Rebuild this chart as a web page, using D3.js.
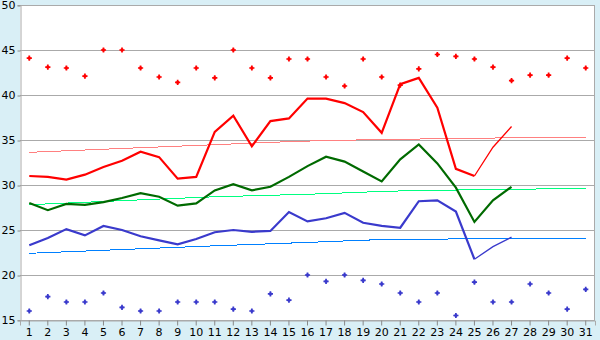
<!DOCTYPE html>
<html>
<head>
<meta charset="utf-8">
<script src="https://cdn.jsdelivr.net/npm/d3@7"></script>
<style>
  html, body { margin: 0; padding: 0; background: #d9eff6; }
  svg { display: block; }
  .tick text { font-family: "DejaVu Sans", Verdana, sans-serif; font-size: 11px; fill: #000; }
</style>
</head>
<body>
<div id="chart"></div>
<script>
const days = d3.range(1, 32)
const yTicks = [15, 20, 25, 30, 35, 40, 45, 50]

// daily highs / lows (scatter)
const highs = [44.1, 43.1, 43.0, 42.1, 45.0, 45.0, 43.0, 42.0, 41.4, 43.0, 41.9, 45.0, 43.0, 41.9, 44.0, 44.0,
  42.0, 41.0, 44.0, 42.0, 41.1, 42.9, 44.5, 44.3, 44.0, 43.1, 41.6, 42.2, 42.2, 44.1, 43.0]
const lows = [16.0, 17.6, 17.0, 17.0, 18.0, 16.4, 16.0, 16.0, 17.0, 17.0, 17.0, 16.2, 16.0, 17.9, 17.2, 20.0,
  19.3, 20.0, 19.4, 19.0, 18.0, 17.0, 18.0, 15.5, 19.2, 17.0, 17.0, 19.0, 18.0, 16.2, 18.4]

// lines, days 1..27
const redLine = [31.0, 30.9, 30.6, 31.15, 32.0, 32.7, 33.7, 33.1, 30.7, 30.9, 35.9, 37.7, 34.3, 37.1, 37.4, 39.6,
  39.6, 39.1, 38.1, 35.8, 41.2, 41.9, 38.6, 31.8, 31.0, 34.2, 36.5]
const greenLine = [28.0, 27.2, 27.9, 27.8, 28.1, 28.55, 29.1, 28.7, 27.7, 27.95, 29.4, 30.1, 29.4, 29.8, 30.9, 32.1,
  33.15, 32.6, 31.5, 30.4, 32.85, 34.5, 32.4, 29.7, 25.9, 28.3, 29.8]
const blueLine = [23.3, 24.1, 25.1, 24.4, 25.45, 25.0, 24.3, 23.85, 23.4, 24.0, 24.75, 25.0, 24.8, 24.9, 27.0, 25.95,
  26.3, 26.9, 25.8, 25.45, 25.25, 28.2, 28.3, 27.05, 21.75, 23.15, 24.2]

// trend lines, read at a few days
const trendDays = [1, 6, 11, 16, 21, 26, 31]
const redTrend = [33.63, 34.06, 34.48, 34.88, 35.08, 35.22, 35.3]
const greenTrend = [27.81, 28.26, 28.69, 28.97, 29.34, 29.49, 29.63]
const blueTrend = [22.41, 22.83, 23.24, 23.62, 23.97, 24.02, 24.07]

const width = 600
const height = 340
const margin = { top: 5, right: 5, bottom: 20, left: 20 }

const svg = d3.select('#chart').append('svg')
  .attr('width', width)
  .attr('height', height)

const x = d3.scaleBand()
  .domain(days)
  .range([margin.left, width - margin.right])
const cx = d => x(d) + x.bandwidth() / 2
const y = d3.scaleLinear()
  .domain([15, 50])
  .range([height - margin.bottom, margin.top])

svg.append('rect')
  .attr('x', margin.left)
  .attr('y', margin.top)
  .attr('width', width - margin.left - margin.right)
  .attr('height', height - margin.top - margin.bottom)
  .attr('fill', '#fff')

// gridlines
svg.append('g')
  .selectAll('line')
  .data(yTicks)
  .enter().append('line')
  .attr('x1', margin.left)
  .attr('x2', width - margin.right)
  .attr('y1', d => Math.round(y(d)) + 0.5)
  .attr('y2', d => Math.round(y(d)) + 0.5)
  .attr('stroke', '#aaa')

svg.append('line')
  .attr('x1', width - margin.right - 0.5)
  .attr('x2', width - margin.right - 0.5)
  .attr('y1', margin.top)
  .attr('y2', height - margin.bottom)
  .attr('stroke', '#aaa')

const yAxis = svg.append('g')
  .attr('transform', `translate(${margin.left + 0.5},0)`)
  .call(d3.axisLeft(y).tickValues(yTicks).tickSize(3).tickPadding(2))
yAxis.selectAll('.tick line').attr('transform', 'translate(0,0.5)')

const xAxis = svg.append('g')
  .attr('transform', `translate(0,${height - margin.bottom + 0.5})`)
  .call(d3.axisBottom(x).tickSize(5).tickPadding(3))

svg.selectAll('.domain').attr('stroke', '#aaa')
svg.selectAll('.tick line').attr('stroke', '#888')

// trends
const trends = [
  { values: redTrend, color: '#ff8080' },
  { values: greenTrend, color: '#00ff80' },
  { values: blueTrend, color: '#0080ff' }
]
const trendLine = d3.line()
  .x((d, i) => cx(trendDays[i]))
  .y(d => y(d))
  .curve(d3.curveMonotoneX)
svg.append('g')
  .selectAll('path')
  .data(trends)
  .enter().append('path')
  .attr('d', d => trendLine(d.values))
  .attr('fill', 'none')
  .attr('stroke', d => d.color)
  .attr('stroke-width', 1)
  .attr('shape-rendering', 'crispEdges')

// main lines; red and blue turn thin for the last two days
const series = [
  { values: redLine, color: '#ff0000', thinFrom: 24 },
  { values: greenLine, color: '#006a00', thinFrom: 99 },
  { values: blueLine, color: '#3a3acc', thinFrom: 24 }
]
const line = d3.line()
  .x(d => cx(d.day))
  .y(d => y(d.v))
series.forEach(s => {
  const pts = s.values.map((v, i) => ({ day: days[i], v }))
  svg.append('path')
    .attr('d', line(pts.slice(0, s.thinFrom + 1)))
    .attr('fill', 'none')
    .attr('stroke', s.color)
    .attr('stroke-width', 2.2)
  if (s.thinFrom < pts.length) {
    svg.append('path')
      .attr('d', line(pts.slice(s.thinFrom)))
      .attr('fill', 'none')
      .attr('stroke', s.color)
      .attr('stroke-width', 1.3)
  }
})

// markers: small plus with a filled centre
const cross = d3.symbol().type(d3.symbolCross).size(15)
const dot = d3.symbol().type(d3.symbolSquare).size(7)
const marks = [
  { values: highs, color: '#ff0000' },
  { values: lows, color: '#3a3acc' }
]
marks.forEach(m => {
  const g = svg.append('g')
    .selectAll('g')
    .data(m.values)
    .enter().append('g')
    .attr('transform', (d, i) => `translate(${cx(days[i])},${y(d)})`)
    .attr('fill', m.color)
  g.append('path').attr('d', cross)
  g.append('path').attr('d', dot)
})
</script>
</body>
</html>
